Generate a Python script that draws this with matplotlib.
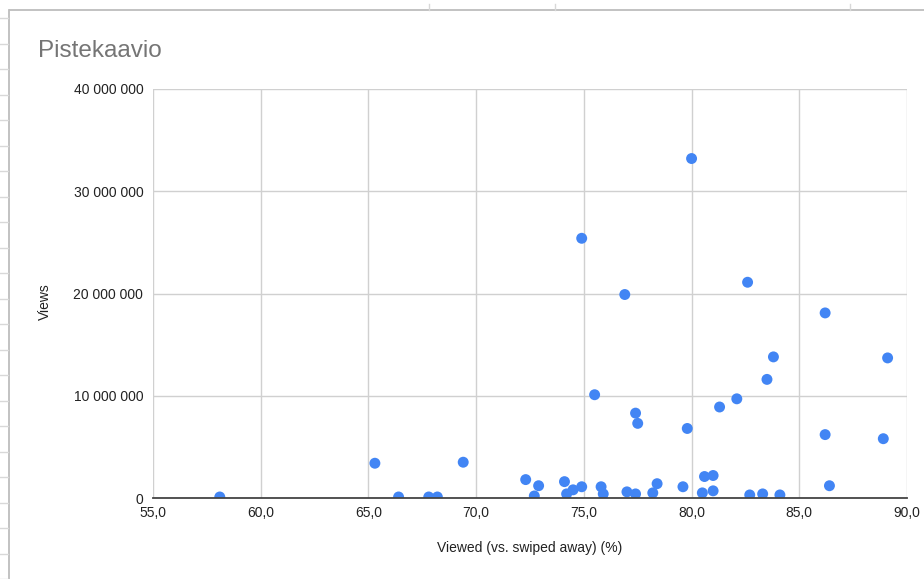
import matplotlib
matplotlib.use("Agg")
import matplotlib.pyplot as plt
from matplotlib.lines import Line2D
from matplotlib.ticker import FuncFormatter

plt.rcParams["font.family"] = ["Liberation Sans", "DejaVu Sans"]

# viewed share (%) and views (millions)
viewed_pct = [58.1, 65.3, 66.4, 67.8, 68.2, 69.4, 72.3, 72.9, 72.7, 74.1, 74.2,
              74.5, 74.9, 75.8, 75.9, 77.0, 77.4, 78.2, 78.4, 79.6, 80.5, 80.6,
              81.0, 81.0, 82.7, 83.3, 84.1, 86.4, 86.2, 88.9, 80.0, 74.9, 76.9,
              82.6, 86.2, 89.1, 83.8, 83.5, 82.1, 81.3, 75.5, 77.4, 77.5, 79.8]
views_m = [0.1, 3.4, 0.1, 0.1, 0.1, 3.5, 1.8, 1.2, 0.2, 1.6, 0.4,
           0.8, 1.1, 1.1, 0.4, 0.6, 0.4, 0.5, 1.4, 1.1, 0.5, 2.1,
           2.2, 0.7, 0.3, 0.4, 0.3, 1.2, 6.2, 5.8, 33.2, 25.4, 19.9,
           21.1, 18.1, 13.7, 13.8, 11.6, 9.7, 8.9, 10.1, 8.3, 7.3, 6.8]
views = [v * 1e6 for v in views_m]

x_ticks = [55, 60, 65, 70, 75, 80, 85, 90]
y_ticks = [0, 10e6, 20e6, 30e6, 40e6]

W, H = 924, 579
fig = plt.figure(figsize=(W / 100, H / 100), dpi=100)
ax = fig.add_axes([153 / W, 1 - 498 / H, (907 - 153) / W, (498 - 89) / H])

ax.scatter(viewed_pct, views, s=62, color="#4285F4", edgecolor="none", zorder=3)

ax.set_xlim(55, 90); ax.set_ylim(0, 40e6)
ax.set_xticks(x_ticks); ax.set_yticks(y_ticks)
ax.xaxis.set_major_formatter(FuncFormatter(lambda v, p: f"{v:.1f}".replace(".", ",")))
ax.yaxis.set_major_formatter(FuncFormatter(lambda v, p: f"{int(v):,}".replace(",", " ")))
ax.tick_params(length=0, labelsize=10, colors="#222222")
ax.tick_params(axis="y", pad=7); ax.tick_params(axis="x", pad=6)
ax.grid(color="#d0d0d0", lw=1.0)
ax.set_axisbelow(True)
for s in ("top", "right", "left"):
    ax.spines[s].set_visible(False)
ax.spines["bottom"].set_color("#444444"); ax.spines["bottom"].set_linewidth(1.3)
ax.spines["bottom"].set_zorder(4)

fig.text(38 / W, 1 - 51 / H, "Pistekaavio", fontsize=17.5, color="#757575", va="center")
fig.text(45 / W, 1 - 302 / H, "Views", rotation=90, fontsize=10, color="#222222",
         ha="center", va="center")
fig.text(530 / W, 1 - 548 / H, "Viewed (vs. swiped away) (%)", fontsize=10,
         color="#222222", ha="center", va="center")

# spreadsheet frame behind the chart
gcol = "#bdbdbd"
fig.add_artist(Line2D([10 / W, 1], [1 - 10 / H, 1 - 10 / H], color=gcol, lw=1.3))
fig.add_artist(Line2D([9 / W, 9 / W], [0, 1 - 10 / H], color=gcol, lw=1.3))
for xm in (429, 555, 850):
    fig.add_artist(Line2D([xm / W, xm / W], [1 - 10 / H, 1 - 4 / H], color="#d8d8d8", lw=1))
for k in range(23):
    yy = 18 + k * 25.5
    fig.add_artist(Line2D([0, 8 / W], [1 - yy / H, 1 - yy / H], color="#d8d8d8", lw=1))

fig.savefig("out.png", dpi=100)
